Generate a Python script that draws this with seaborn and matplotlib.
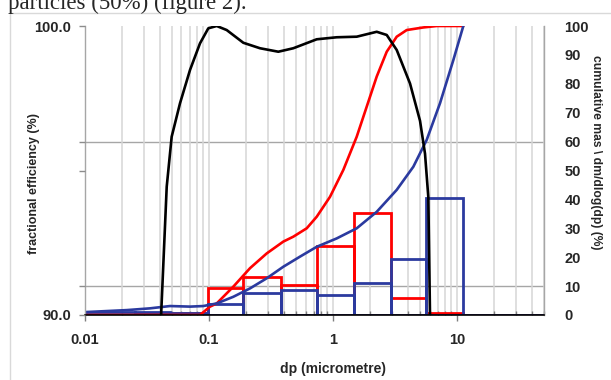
import numpy as np
import pandas as pd
import matplotlib
matplotlib.use("Agg")
import matplotlib.pyplot as plt
from matplotlib.lines import Line2D
import seaborn as sns

# ---------------- data ----------------
# fractional efficiency (left axis, %)
eff_dp = [0.0410, 0.0456, 0.0500, 0.0584, 0.0703, 0.0846, 0.0987, 0.1154, 0.1389,
          0.1891, 0.2578, 0.3622, 0.4784, 0.7388, 1.071, 1.553, 2.251, 2.711,
          3.264, 4.178, 5.030, 5.52, 5.868, 6.06]
eff_val = [89.9, 94.44, 96.17, 97.33, 98.48, 99.40, 99.92, 100.0, 99.86,
           99.42, 99.23, 99.11, 99.23, 99.54, 99.61, 99.63, 99.80, 99.69,
           99.17, 98.01, 96.72, 95.58, 94.08, 89.9]

# cumulative mass (right axis, %)
cum_red_dp = [0.01, 0.0845, 0.1019, 0.1154, 0.157, 0.2141, 0.2919, 0.3974, 0.4784,
              0.6136, 0.7388, 0.9458, 1.211, 1.553, 1.870, 2.251, 2.711, 3.264,
              3.930, 5.349, 6.86, 11.24]
cum_red = [0.0, 0.0, 2.9, 4.0, 9.8, 16.2, 21.3, 25.4, 27.1,
           30.0, 34.0, 40.9, 50.2, 61.7, 72.1, 82.5, 91.1, 96.3,
           98.6, 99.5, 100.0, 100.0]

cum_blue_dp = [0.01, 0.0218, 0.0334, 0.0485, 0.0703, 0.0899, 0.1154, 0.157, 0.2141,
               0.2919, 0.3974, 0.542, 0.7388, 1.071, 1.553, 2.251, 3.264, 4.443,
               5.696, 7.294, 9.337, 11.24]
cum_blue = [1.0, 1.7, 2.3, 3.1, 2.9, 3.1, 4.0, 6.3, 9.2,
            12.7, 16.7, 20.2, 23.6, 26.5, 30.0, 35.7, 43.3, 51.3,
            60.6, 73.3, 88.2, 100.0]

# dm/dlog(dp) histograms (right axis, %)
bin_edges = [0.01, 0.0253, 0.0484, 0.0985, 0.189, 0.380, 0.738, 1.47, 2.93, 5.65, 11.1, 50.0]
mass_red = [0.0, 0.5, 0.8, 9.5, 13.3, 10.4, 23.9, 35.4, 6.0, 0.6, 0.0]
mass_blue = [0.9, 0.9, 0.7, 3.8, 7.7, 8.7, 6.9, 11.0, 19.3, 40.4, 0.0]

x_ticks = [0.01, 0.1, 1, 10]
x_ticklabels = ["0.01", "0.1", "1", "10"]
right_ticks = list(range(0, 101, 10))

RED = "#FF0000"
BLUE = "#2B3A9F"

# ---------------- style ----------------
sns.set_style("white")
plt.rcParams["font.family"] = ["Liberation Sans", "DejaVu Sans"]
plt.rcParams["font.weight"] = "bold"

W, H = 611, 380
fig = plt.figure(figsize=(W / 100, H / 100), dpi=100)
L, R, T, B = 85, 543.7, 26, 315
ax = fig.add_axes([L / W, 1 - B / H, (R - L) / W, (B - T) / H])

edges = np.array(bin_edges)
centers = np.sqrt(edges[:-1] * edges[1:])
log_bins = [float(v) for v in np.log10(edges)]
hist_df = pd.DataFrame({"dp": centers, "red": mass_red, "blue": mass_blue})

# histograms (outlined bars)
sns.histplot(data=hist_df, x="dp", weights="red", bins=log_bins, log_scale=True,
             element="bars", fill=False, color=RED, linewidth=2.0, ax=ax)
sns.histplot(data=hist_df, x="dp", weights="blue", bins=log_bins, log_scale=True,
             element="bars", fill=False, color=BLUE, linewidth=2.0, ax=ax)

# cumulative curves
sns.lineplot(x=cum_red_dp, y=cum_red, color=RED, linewidth=1.9, ax=ax,
             sort=False, estimator=None)
sns.lineplot(x=cum_blue_dp, y=cum_blue, color=BLUE, linewidth=1.9, ax=ax,
             sort=False, estimator=None)

ax.set_xscale("log")
ax.set_xlim(0.01, 50)
ax.set_ylim(0, 100)

# left axis (efficiency) on a twin drawn on top
axL = ax.twinx()
sns.lineplot(x=eff_dp, y=eff_val, color="black", linewidth=1.9, ax=axL,
             sort=False, estimator=None)
axL.set_ylim(90, 100)
axL.set_xlim(0.01, 50)
axL.yaxis.tick_left()
axL.yaxis.set_label_position("left")
axL.set_yticks([90, 91, 95, 96, 100])
axL.set_yticklabels(["90.0", "", "", "", "100.0"], fontsize=10.5, fontweight="bold")
axL.tick_params(axis="y", direction="out", length=4, width=1, color="#8c8c8c",
                pad=6, left=True, right=False, labelleft=True, labelright=False)
axL.set_ylabel("fractional efficiency (%)", fontsize=9, fontweight="bold",
               va="center")
axL.yaxis.set_label_coords((33.5 - L) / (R - L), (B - 183) / (B - T))
for s in axL.spines.values():
    s.set_visible(False)
axL.grid(False)

# grid on main axes
ax.grid(which="both", axis="x", color="#d6d6d6", linewidth=1.1, zorder=0)
ax.grid(False, axis="y")
for gv in (10, 60):
    ax.axhline(gv, color="#a6a6a6", linewidth=1.0, zorder=0.5)
ax.set_axisbelow(True)

# x axis ticks
ax.set_xticks(x_ticks)
ax.set_xticklabels(x_ticklabels, fontsize=10.5, fontweight="bold")
ax.tick_params(axis="x", which="major", direction="out", length=4, width=1,
               color="#7f7f7f", pad=9, bottom=True)
ax.tick_params(axis="x", which="minor", direction="in", length=3, width=1,
               color="#7f7f7f", bottom=True)
ax.set_xlabel("dp (micrometre)", fontsize=10, fontweight="bold", va="center")
ax.xaxis.set_label_coords((332.5 - L) / (R - L), (B - 369.5) / (B - T))

# right axis (main ax) -- configured after twinx
ax.yaxis.tick_right()
ax.yaxis.set_label_position("right")
ax.set_yticks(right_ticks)
ax.set_yticklabels([str(v) for v in right_ticks], fontsize=10.5, fontweight="bold")
ax.set_yticks([0, 10, 50, 60], minor=True)
ax.tick_params(axis="y", which="major", length=0, pad=15, right=True, left=False,
               labelright=True, labelleft=False)
ax.tick_params(axis="y", which="minor", direction="out", length=5, width=1,
               color="#8c8c8c", right=True, left=False)
ax.set_ylabel("cumulative mas \\ dm/dlog(dp) (%)", fontsize=8.7,
              fontweight="bold", rotation=-90, va="center")
ax.yaxis.set_label_coords((596 - L) / (R - L), (B - 152) / (B - T))

ax.spines["top"].set_visible(False)
ax.spines["left"].set_color("#a6a6a6")
ax.spines["right"].set_color("#a6a6a6")
ax.spines["bottom"].set_color("black")
ax.spines["bottom"].set_linewidth(1.2)
ax.spines["left"].set_linewidth(1.0)
ax.spines["right"].set_linewidth(1.0)

# chart area border and surrounding document text
fig.add_artist(Line2D([10 / W, 1], [1 - 13 / H, 1 - 13 / H], color="#d9d9d9", lw=1.0))
fig.add_artist(Line2D([10 / W, 10 / W], [0, 1 - 13 / H], color="#d9d9d9", lw=1.0))
fig.text(8 / W, 1 - 9.5 / H, "particles (50%) (figure 2).",
         family=["Liberation Serif", "DejaVu Serif"], fontweight="normal",
         fontsize=16.5, va="baseline", ha="left")

fig.savefig("out.png", dpi=100)
